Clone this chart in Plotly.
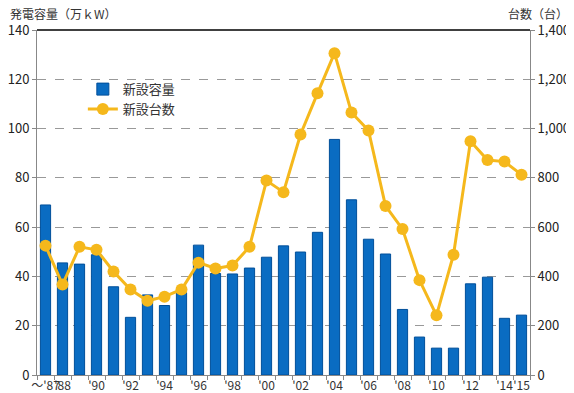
import plotly.graph_objects as go

years = ["'87", "'88", "'89", "'90", "'91", "'92", "'93", "'94", "'95", "'96",
         "'97", "'98", "'99", "'00", "'01", "'02", "'03", "'04", "'05", "'06",
         "'07", "'08", "'09", "'10", "'11", "'12", "'13", "'14", "'15"]
tick_labels = ["～'87", "'88", "", "'90", "", "'92", "", "'94", "", "'96",
               "", "'98", "", "'00", "", "'02", "", "'04", "", "'06",
               "", "'08", "", "'10", "", "'12", "", "'14", "'15"]
capacity = [69, 45.5, 45, 48.8, 35.8, 23.4, 32.5, 28.2, 33.4, 52.7,
            41.2, 41, 43.4, 47.8, 52.4, 49.9, 57.9, 95.6, 71.1, 55.1,
            49.1, 26.6, 15.4, 10.9, 10.9, 37, 39.7, 23, 24.3]
units = [525, 367, 520, 508, 420, 347, 301, 318, 347, 456,
         432, 444, 520, 789, 742, 976, 1143, 1306, 1065, 992,
         686, 592, 385, 242, 488, 949, 872, 866, 813]

font_main = "Noto Sans CJK JP, Noto Sans, sans-serif"

fig = go.Figure()
fig.add_trace(go.Bar(
    x=years, y=capacity, name="新設容量",
    marker=dict(color="#0A6CC2", line=dict(color="#004F9A", width=1)),
    yaxis="y",
))
fig.add_trace(go.Scatter(
    x=years, y=units, name="新設台数", mode="lines+markers",
    line=dict(color="#F5B81C", width=3),
    marker=dict(color="#F5B81C", size=12),
    yaxis="y2",
))

fig.update_layout(
    width=574, height=393,
    margin=dict(l=29, r=52, t=22, b=26),
    paper_bgcolor="white", plot_bgcolor="white",
    font=dict(family=font_main, size=13, color="#222222"),
    bargap=0.4,
    showlegend=True,
    legend=dict(x=0.093, y=0.872, xanchor="left", yanchor="top",
                bgcolor="rgba(0,0,0,0)", font=dict(size=13, color="#333333"),
                tracegroupgap=4, itemwidth=30),
    xaxis=dict(
        type="category", tickmode="array", tickvals=years, ticktext=tick_labels,
        range=[-0.5, len(years) - 0.5], autorange=False,
        tickson="boundaries", ticks="outside", ticklen=4, tickcolor="#888888",
        showline=True, linecolor="#888888", linewidth=1, tickangle=0,
        automargin=False,
        showgrid=False, tickfont=dict(size=12, color="#333333"),
    ),
    yaxis=dict(
        range=[0, 140], dtick=20, showgrid=True, gridcolor="#999999",
        griddash="dash", gridwidth=1, showline=True, linecolor="#888888",
        ticks="outside", ticklen=4, tickcolor="#888888", zeroline=False,
        automargin=False,
        tickfont=dict(size=13, color="#222222"),
    ),
    yaxis2=dict(
        range=[0, 1400], dtick=200, overlaying="y", side="right",
        showgrid=False, showline=True, linecolor="#888888",
        ticks="outside", ticklen=4, tickcolor="#888888", zeroline=False,
        automargin=False,
        tickformat=",", tickfont=dict(size=13, color="#222222"),
    ),
    shapes=[dict(type="line", xref="paper", yref="paper", x0=0, x1=1, y0=1, y1=1,
                 line=dict(color="black", width=1.5))],
    annotations=[
        dict(text="発電容量（万ｋW）", xref="paper", yref="paper", x=-0.056, y=1.0,
             xanchor="left", yanchor="bottom", yshift=7, borderpad=0, showarrow=False,
             font=dict(size=12, color="#333333")),
        dict(text="台数（台）", xref="paper", yref="paper", x=1.08, y=1.0,
             xanchor="right", yanchor="bottom", yshift=7, borderpad=0, showarrow=False,
             font=dict(size=12, color="#333333")),
    ],
)

fig.write_html("out.html")
